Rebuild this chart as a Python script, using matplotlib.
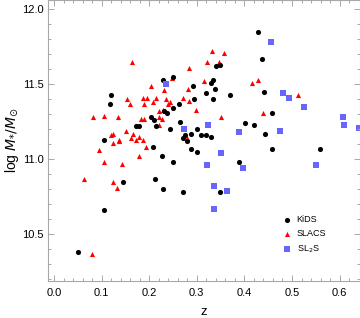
import numpy as np
import matplotlib
matplotlib.use('Agg')
import matplotlib.pyplot as plt

plt.rcParams['font.family'] = ['Liberation Sans', 'DejaVu Sans']
plt.rcParams['mathtext.fontset'] = 'dejavusans'

# KiDS lenses
kids_z = [0.050, 0.104, 0.105, 0.117, 0.119, 0.145, 0.172, 0.178, 0.204, 0.210,
          0.209, 0.212, 0.215, 0.227, 0.228, 0.230, 0.232, 0.237, 0.244, 0.249,
          0.249, 0.249, 0.263, 0.265, 0.270, 0.272, 0.276, 0.280, 0.287, 0.288,
          0.291, 0.294, 0.300, 0.300, 0.309, 0.319, 0.319, 0.329, 0.330, 0.333,
          0.333, 0.338, 0.340, 0.349, 0.349, 0.369, 0.389, 0.401, 0.420, 0.429,
          0.438, 0.441, 0.443, 0.457, 0.459, 0.559]
kids_m = [10.38, 10.66, 11.13, 11.37, 11.43, 10.85, 11.22, 11.22, 11.28, 11.26,
          11.08, 10.87, 11.22, 11.02, 11.53, 10.80, 11.32, 11.31, 11.20, 11.55,
          11.34, 10.98, 11.37, 11.25, 10.78, 11.14, 11.16, 11.12, 11.17, 11.07,
          11.49, 11.40, 11.20, 11.05, 11.16, 11.16, 11.44, 11.15, 11.51, 11.53,
          11.40, 11.47, 11.62, 11.63, 10.78, 11.43, 10.98, 11.24, 11.23, 11.85,
          11.67, 11.45, 11.17, 11.07, 11.31, 11.07]

# SLACS lenses
slacs_z = [0.163, 0.081, 0.105, 0.134, 0.094, 0.154, 0.159, 0.186, 0.195, 0.214,
           0.189, 0.207, 0.204, 0.231, 0.247, 0.236, 0.244, 0.239, 0.221, 0.228,
           0.183, 0.190, 0.221, 0.227, 0.221, 0.123, 0.152, 0.167, 0.161, 0.179,
           0.172, 0.188, 0.136, 0.136, 0.125, 0.193, 0.179, 0.104, 0.142, 0.062,
           0.125, 0.133, 0.080, 0.331, 0.357, 0.284, 0.322, 0.346, 0.316, 0.416,
           0.429, 0.282, 0.272, 0.284, 0.298, 0.350, 0.439, 0.512, 0.279, 0.119]
slacs_m = [11.65, 11.28, 11.29, 11.28, 11.06, 11.40, 11.37, 11.41, 11.41, 11.41,
           11.37, 11.38, 11.49, 11.46, 11.54, 11.40, 11.38, 11.37, 11.32, 11.33,
           11.27, 11.27, 11.28, 11.27, 11.23, 11.17, 11.19, 11.17, 11.14, 11.15,
           11.13, 11.13, 11.13, 11.12, 11.11, 11.08, 11.02, 10.98, 10.97, 10.87,
           10.85, 10.81, 10.37, 11.72, 11.71, 11.61, 11.65, 11.65, 11.52, 11.51,
           11.53, 11.47, 11.41, 11.39, 11.33, 11.28, 11.31, 11.43, 11.14, 11.16]

# SL2S lenses
sl2s_z = [0.236, 0.455, 0.482, 0.493, 0.525, 0.608, 0.610, 0.641, 0.273, 0.324,
          0.388, 0.475, 0.351, 0.321, 0.398, 0.337, 0.364, 0.551, 0.337]
sl2s_m = [11.50, 11.78, 11.44, 11.41, 11.35, 11.28, 11.23, 11.21, 11.20, 11.23,
          11.18, 11.19, 11.04, 10.96, 10.94, 10.82, 10.79, 10.96, 10.67]

fig = plt.figure(figsize=(3.6, 3.18), dpi=100)
ax = fig.add_axes([48/360, 37/318, 311.5/360, 281/318])

h_slacs = ax.scatter(slacs_z, slacs_m, s=3.7**2, marker='^', color='#ff0000',
                     linewidths=0, label='SLACS')
h_kids = ax.scatter(kids_z, kids_m, s=3.7**2, marker='o', color='black',
                    linewidths=0, label='KiDS')
h_sl2s = ax.scatter(sl2s_z, sl2s_m, s=3.8**2, marker='s', color='#6666ff',
                    linewidths=0, label='SL$_2$S')

ax.set_xlim(-0.0126, 0.6418)
ax.set_ylim(10.189, 12.062)
ax.set_xticks(np.arange(0, 0.61, 0.1))
ax.set_xticks(np.arange(0, 0.64, 0.02), minor=True)
ax.set_yticks([10.5, 11.0, 11.5, 12.0])
ax.set_yticks(np.arange(10.2, 12.06, 0.1), minor=True)

for sp in ax.spines.values():
    sp.set_color('#a8a8a8')
    sp.set_linewidth(0.8)
ax.tick_params(which='both', direction='in', top=True, right=True,
               color='#a8a8a8', width=0.7, labelsize=8)
ax.tick_params(which='major', length=4.3)
ax.tick_params(which='minor', length=2.2)
ax.tick_params(axis='x', pad=5)
ax.tick_params(axis='y', pad=3)

ax.set_xlabel('z', fontsize=9.5, labelpad=6)
ax.set_ylabel(r'log $M_{*}/M_{\odot}$', fontsize=10, labelpad=1)

ax.legend(handles=[h_kids, h_slacs, h_sl2s], loc='center left',
          bbox_to_anchor=(0.7255, 0.1637), frameon=False, fontsize=6.5,
          handlelength=1.0, handletextpad=0.6, labelspacing=0.55,
          scatterpoints=1, borderpad=0.4)

fig.savefig('out.png', dpi=100)
